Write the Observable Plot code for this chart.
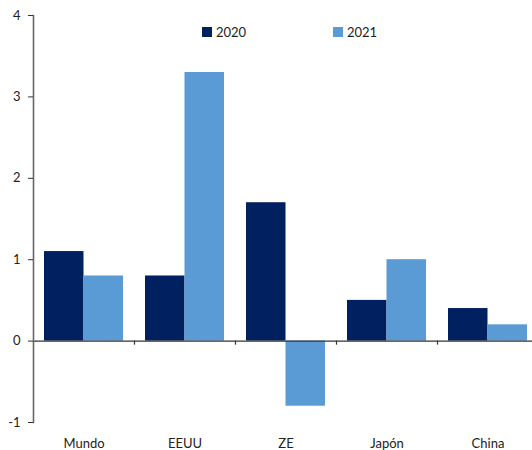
<!DOCTYPE html>
<html>
<head>
<meta charset="utf-8">
<script src="https://cdn.jsdelivr.net/npm/d3@7"></script>
<script src="https://cdn.jsdelivr.net/npm/@observablehq/plot@0.6"></script>
<style>
  html, body { margin: 0; padding: 0; background: #fff; }
  #chart { position: relative; width: 532px; height: 450px; font-family: Lato, "Liberation Sans", sans-serif; }
  .legend { position: absolute; top: 24px; font-size: 13px; color: #222; display: flex; align-items: center; }
  .legend i { display: inline-block; width: 10px; height: 10px; margin-right: 4px; }
</style>
</head>
<body>
<div id="chart"></div>
<script>
// Regions and yearly values
const regions = ["Mundo", "EEUU", "ZE", "Japón", "China"];
const values2020 = [1.1, 0.8, 1.7, 0.5, 0.4];
const values2021 = [0.8, 3.3, -0.8, 1.0, 0.2];
const years = ["2020", "2021"];
const yTicks = [-1, 0, 1, 2, 3, 4];
const colors = ["#002060", "#5b9bd5"];

const rows2020 = regions.map((r, i) => ({region: r, value: values2020[i]}));
const rows2021 = regions.map((r, i) => ({region: r, value: values2021[i]}));

const band = 101;   // width of one region band, px
const half = band / 2;
const outer = 11;   // gap at each side of a region's pair of bars

const chart = Plot.plot({
  width: 532,
  height: 450,
  marginLeft: 33,
  marginRight: 0,
  marginTop: 15,
  marginBottom: 28,
  style: {fontFamily: "Lato, 'Liberation Sans', sans-serif", fontSize: "13px", color: "#222"},
  x: {domain: regions, range: [33, 33 + band * regions.length], padding: 0, label: null},
  y: {domain: [-1, 4], range: [422, 15], label: null},
  marks: [
    Plot.barY(rows2020, {x: "region", y: "value", fill: colors[0], insetLeft: outer, insetRight: half}),
    Plot.barY(rows2021, {x: "region", y: "value", fill: colors[1], insetLeft: half, insetRight: outer}),
    Plot.ruleY([0], {stroke: "#333", strokeWidth: 1.2}),
    Plot.ruleX(regions.slice(1), {x: d => d, y1: 0, y2: -0.05, dx: -half, stroke: "#333", strokeWidth: 1.2}),
    Plot.frame({anchor: "left", stroke: "#666", strokeWidth: 1.6}),
    Plot.axisY({ticks: yTicks, tickFormat: d => String(d), tickSize: 5, tickPadding: 8, stroke: "#333", fontSize: 13}),
    Plot.axisX({tickSize: 0, tickPadding: 16, fontSize: 13})
  ]
});

const root = document.getElementById("chart");
root.appendChild(chart);

// Legend placed over the plot area
const legendPos = [202, 333];
years.forEach((yr, i) => {
  const item = document.createElement("div");
  item.className = "legend";
  item.style.left = legendPos[i] + "px";
  item.innerHTML = `<i style="background:${colors[i]}"></i>${yr}`;
  root.appendChild(item);
});
</script>
</body>
</html>
